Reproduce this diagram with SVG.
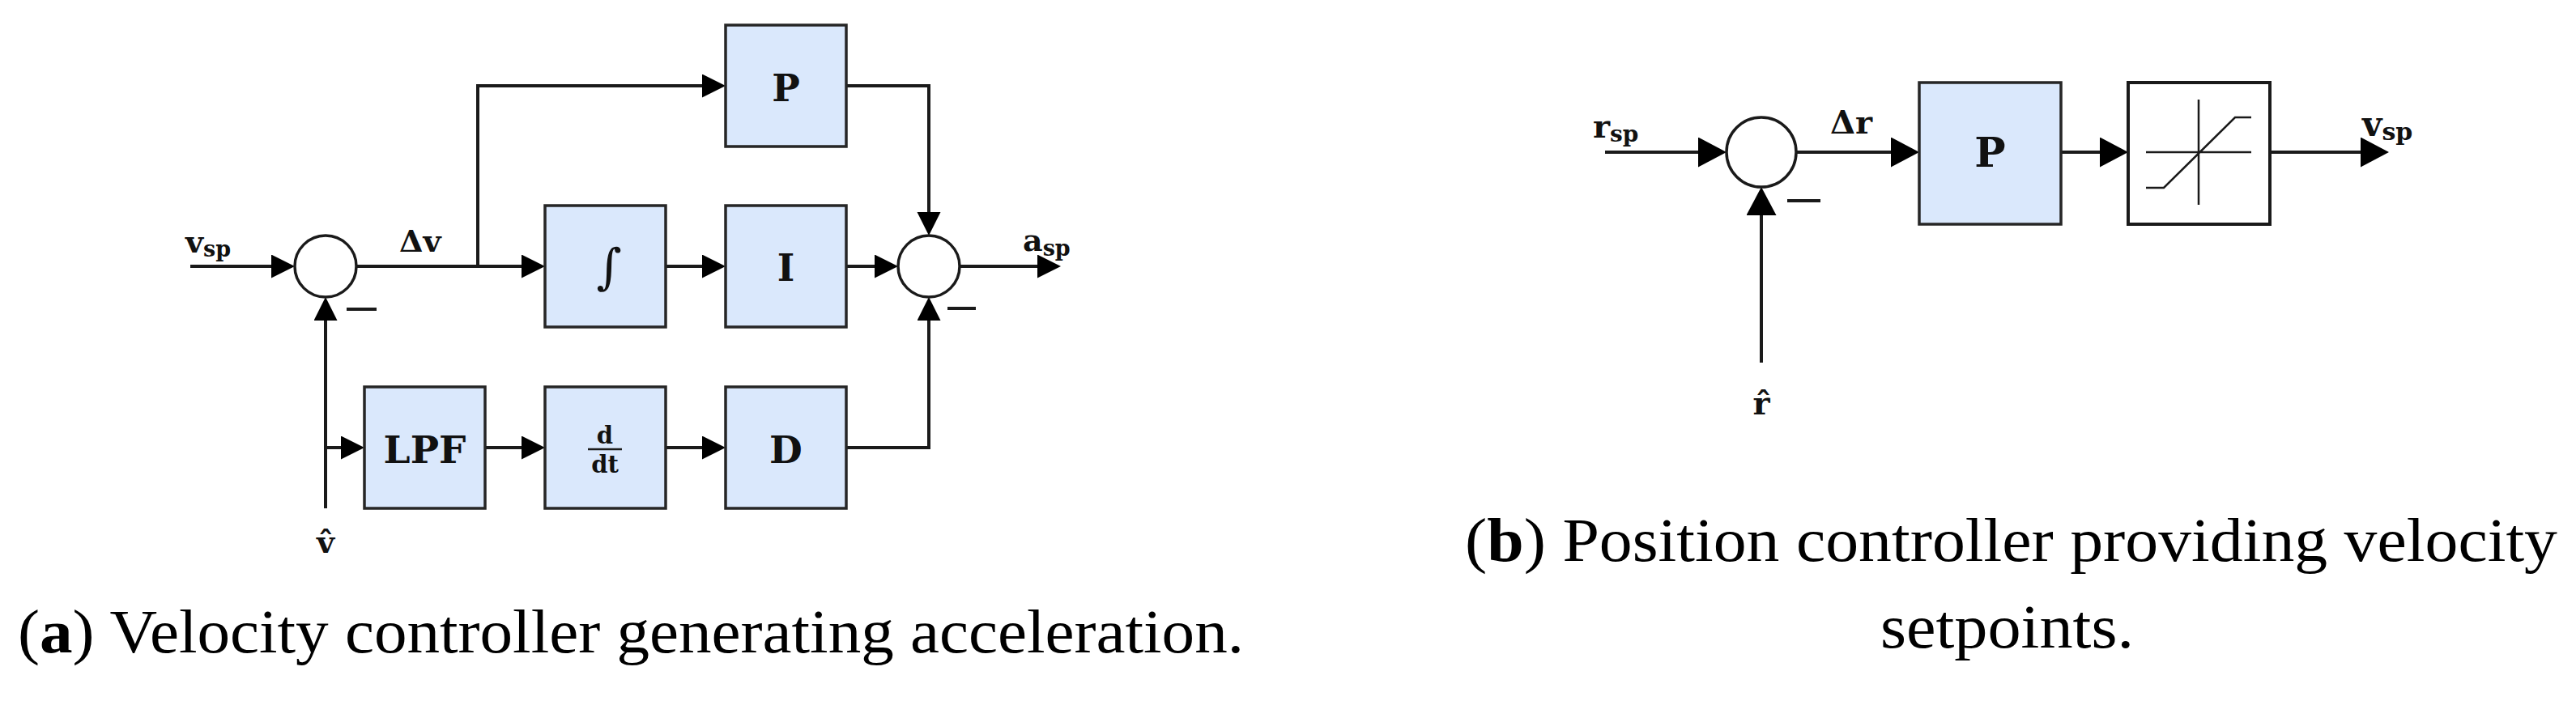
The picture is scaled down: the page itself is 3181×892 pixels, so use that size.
<svg xmlns="http://www.w3.org/2000/svg" width="3181" height="892" viewBox="0 0 3181 892">
<style>
.box{fill:#dae8fc;stroke:#262626;stroke-width:3.5}
.wbox{fill:#ffffff;stroke:#1a1a1a;stroke-width:4}
.sum{fill:#ffffff;stroke:#1a1a1a;stroke-width:3.5}
.w{fill:none;stroke:#1a1a1a;stroke-width:4}
.wa{fill:none;stroke:#1a1a1a;stroke-width:4;marker-end:url(#ha)}
.wb{fill:none;stroke:#1a1a1a;stroke-width:4;marker-end:url(#hb)}
.thin{fill:none;stroke:#1a1a1a;stroke-width:2.5}
.lbl{font-family:"DejaVu Serif","Liberation Serif",serif;font-weight:bold;fill:#111}
.cap{font-family:"Liberation Serif","DejaVu Serif",serif;fill:#000}
</style>
<defs>
<marker id="ha" markerUnits="userSpaceOnUse" markerWidth="30" markerHeight="30" refX="23" refY="14.5" orient="auto"><path d="M0,0 L29,14.5 L0,29 z" fill="#000"/></marker>
<marker id="hb" markerUnits="userSpaceOnUse" markerWidth="36" markerHeight="38" refX="29" refY="18.5" orient="auto"><path d="M0,0 L35,18.5 L0,37 z" fill="#000"/></marker>
</defs>
<rect width="3181" height="892" fill="#ffffff"/>

<g id="connectors">
<path class="wa" d="M235,329 H358"/>
<path class="wa" d="M440,329 H667"/>
<path class="wa" d="M590,329 V106 H890"/>
<path class="wa" d="M822,329 H890"/>
<path class="wa" d="M1045,329 H1103"/>
<path class="wa" d="M1045,106 H1147 V285"/>
<path class="wa" d="M1045,553 H1147 V373"/>
<path class="wa" d="M1185,329 H1304"/>
<path class="wa" d="M402,628 V373"/>
<path class="wa" d="M402,553 H444"/>
<path class="wa" d="M599,553 H667"/>
<path class="wa" d="M822,553 H890"/>
<path class="wb" d="M1982,188 H2126"/>
<path class="wb" d="M2218,188 H2364"/>
<path class="wb" d="M2545,188 H2622"/>
<path class="wb" d="M2803,188 H2944"/>
<path class="wb" d="M2175,448 V237"/>
</g>

<g id="sum1"><circle class="sum" cx="402" cy="329" r="38"/><path class="w" d="M428,382 H465"/></g>
<g id="sum2"><circle class="sum" cx="1147" cy="329" r="38"/><path class="w" d="M1170,381 H1205"/></g>
<g id="P_a"><rect class="box" x="896" y="31" width="149" height="150"/><text class="lbl" x="970.5" y="125" font-size="46" text-anchor="middle">P</text></g>
<g id="integral"><rect class="box" x="673" y="254" width="149" height="150"/><text x="752" y="350" font-family="DejaVu Serif,serif" font-size="60" text-anchor="middle" fill="#111">∫</text></g>
<g id="I"><rect class="box" x="896" y="254" width="149" height="150"/><text class="lbl" x="970.5" y="347" font-size="46" text-anchor="middle">I</text></g>
<g id="LPF"><rect class="box" x="450" y="478" width="149" height="150"/><text class="lbl" x="524.5" y="572" font-size="47" text-anchor="middle">LPF</text></g>
<g id="ddt"><rect class="box" x="673" y="478" width="149" height="150"/><text class="lbl" x="747" y="548" font-size="29" text-anchor="middle">d</text><path class="thin" d="M726,555 H768"/><text class="lbl" x="747" y="584" font-size="29" text-anchor="middle">dt</text></g>
<g id="D"><rect class="box" x="896" y="478" width="149" height="150"/><text class="lbl" x="970.5" y="572" font-size="47" text-anchor="middle">D</text></g>

<g id="labels_a">
<text class="lbl" x="229" y="312" font-size="38">v<tspan font-size="27" dy="5">sp</tspan></text>
<text class="lbl" x="493" y="311" font-size="38">Δv</text>
<text class="lbl" x="1263" y="310" font-size="38">a<tspan font-size="27" dy="6">sp</tspan></text>
<text class="lbl" x="402" y="683" font-size="38" text-anchor="middle">v̂</text>
</g>

<g id="sum3"><circle class="sum" cx="2175" cy="188" r="43"/><path class="w" d="M2207,248 H2248"/></g>
<g id="P_b"><rect class="box" x="2370" y="102" width="175" height="175"/><text class="lbl" x="2457.5" y="206" font-size="51" text-anchor="middle">P</text></g>
<g id="saturation"><rect class="wbox" x="2628" y="102" width="175" height="175"/><path class="thin" d="M2650,188 H2780 M2715,123 V253 M2650,232 H2672 L2760,145 H2780"/></g>

<g id="labels_b">
<text class="lbl" x="1967" y="170" font-size="40">r<tspan font-size="28" dy="5">sp</tspan></text>
<text class="lbl" x="2260" y="165" font-size="40">Δr</text>
<text class="lbl" x="2917" y="168" font-size="42">v<tspan font-size="30" dy="5">sp</tspan></text>
<text class="lbl" x="2175" y="512" font-size="40" text-anchor="middle">r̂</text>
</g>

<g id="captions">
<text class="cap" x="22" y="806" font-size="77" textLength="1514" lengthAdjust="spacingAndGlyphs">(<tspan font-weight="bold">a</tspan>) Velocity controller generating acceleration.</text>
<text class="cap" x="1809" y="693" font-size="77" textLength="1349" lengthAdjust="spacingAndGlyphs">(<tspan font-weight="bold">b</tspan>) Position controller providing velocity</text>
<text class="cap" x="2322" y="800" font-size="77" textLength="313" lengthAdjust="spacingAndGlyphs">setpoints.</text>
</g>
</svg>
